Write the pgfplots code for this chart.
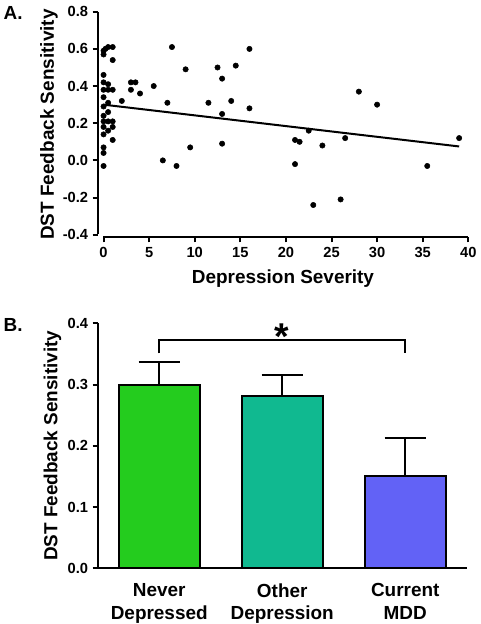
\documentclass[border=0pt]{standalone}
\usepackage{pgfplots}
\pgfplotsset{compat=1.18}
\usepackage{fontspec}
\setmainfont{Liberation Sans}
\definecolor{cgreen}{RGB}{36,204,30}
\definecolor{cteal}{RGB}{16,185,144}
\definecolor{cblue}{RGB}{98,98,246}
\pgfplotsset{
  common/.style={
    scale only axis,
    axis lines=left,
    axis line style={-, line width=1.5pt},
    tick align=outside,
    major tick length=3.75pt,
    tick style={line width=1.5pt, black},
    /pgf/number format/assume math mode=true,
    tick label style={font=\bfseries\fontsize{11}{13}\selectfont},
  }
}
\begin{document}
\begin{tikzpicture}
\useasboundingbox (0,0) rectangle (360pt,-468pt);
\node[anchor=base west, font=\bfseries\fontsize{14.2}{16}\selectfont, inner sep=0pt] at (2.5pt,-14.5pt) {A.};
\node[anchor=base west, font=\bfseries\fontsize{14.2}{16}\selectfont, inner sep=0pt] at (2.5pt,-248.8pt) {B.};

\begin{axis}[common,
  at={(73.3pt,-178pt)}, anchor=south west,
  width=277.9pt, height=169.2pt,
  xmin=-0.64, xmax=40, ymin=-0.414, ymax=0.8,
  x axis line style={shorten <=4.3pt},
  y axis line style={shorten <=2.3pt},
  xtick={0,5,10,15,20,25,30,35,40},
  ytick={-0.4,-0.2,0,0.2,0.4,0.6,0.8},
  yticklabel style={/pgf/number format/.cd, fixed, fixed zerofill, precision=1},
  xlabel={Depression Severity},
  ylabel={DST Feedback Sensitivity},
  every axis x label/.style={at={(axis description cs:0.5,0)}, anchor=base, yshift=-34.5pt, font=\bfseries\fontsize{14.2}{16}\selectfont},
  every axis y label/.style={at={(axis description cs:0,0.5)}, xshift=-36.5pt, rotate=90, anchor=center, font=\bfseries\fontsize{14.2}{16}\selectfont},
]
\addplot[only marks, mark=*, mark size=2pt, black] coordinates {
(0,0.59) (0.2,0.60) (0.5,0.61) (1,0.61) (0,0.57) (1,0.54)
(0,0.46) (0,0.42) (0.5,0.41) (0,0.38) (0.5,0.38) (1,0.38)
(0,0.34) (0.5,0.31) (0,0.29) (0.5,0.26) (0,0.24)
(0,0.21) (0.5,0.21) (1,0.21) (0,0.18) (1,0.18) (0,0.14) (0.5,0.16)
(1,0.11) (0,0.07) (0,0.04) (0,-0.03)
(2,0.32) (3,0.42) (3.5,0.42) (3,0.38) (4,0.36) (5.5,0.40)
(6.5,0.00) (7,0.31) (7.5,0.61) (8,-0.03) (9,0.49) (9.5,0.07)
(11.5,0.31) (12.5,0.50) (13,0.44) (13,0.25) (13,0.09) (14,0.32)
(14.5,0.51) (16,0.60) (16,0.28)
(21,0.11) (21.5,0.10) (21,-0.02) (22.5,0.16) (23,-0.24) (24,0.08)
(26,-0.21) (26.5,0.12) (28,0.37) (30,0.30) (35.5,-0.03) (39,0.12)
};
\addplot[black, line width=1.5pt] coordinates {(0,0.300) (39,0.075)};
\end{axis}

\begin{axis}[common,
  at={(73.3pt,-426.2pt)}, anchor=south west,
  width=276.75pt, height=183.75pt,
  xmin=-0.5, xmax=2.5, ymin=0, ymax=0.4,
  clip=false,
  ybar, bar width=61.1pt,
  xtick={0,1,2},
  xticklabels={{Never\\Depressed},{Other\\Depression},{Current\\MDD}},
  xtick style={draw=none},
  xticklabel style={align=center, font=\bfseries\fontsize{14.2}{17}\selectfont, yshift=-4pt},
  ytick={0,0.1,0.2,0.3,0.4},
  yticklabel style={/pgf/number format/.cd, fixed, fixed zerofill, precision=1},
  ylabel={DST Feedback Sensitivity},
  every axis y label/.style={at={(axis description cs:0,0.5)}, xshift=-34pt, rotate=90, anchor=center, font=\bfseries\fontsize{14.2}{16}\selectfont},
]
\addplot[fill=cgreen, draw=black, line width=1.5pt, bar shift=0pt,
  error bars/.cd, y dir=plus, y explicit,
  error bar style={line width=1.5pt, black},
  error mark options={rotate=90, mark size=15.4pt, line width=1.5pt, black}]
  coordinates {(0,0.300) +- (0,0.037)};
\addplot[fill=cteal, draw=black, line width=1.5pt, bar shift=0pt,
  error bars/.cd, y dir=plus, y explicit,
  error bar style={line width=1.5pt, black},
  error mark options={rotate=90, mark size=15.4pt, line width=1.5pt, black}]
  coordinates {(1,0.281) +- (0,0.035)};
\addplot[fill=cblue, draw=black, line width=1.5pt, bar shift=0pt,
  error bars/.cd, y dir=plus, y explicit,
  error bar style={line width=1.5pt, black},
  error mark options={rotate=90, mark size=15.4pt, line width=1.5pt, black}]
  coordinates {(2,0.150) +- (0,0.062)};
\draw[line width=1.5pt] (axis cs:0,0.351) -- (axis cs:0,0.372) -- (axis cs:2,0.372) -- (axis cs:2,0.351);
\node[anchor=base, font=\bfseries\fontsize{28}{28}\selectfont, inner sep=0pt] at (axis cs:1,0.357) {*};
\end{axis}
\end{tikzpicture}
\end{document}
